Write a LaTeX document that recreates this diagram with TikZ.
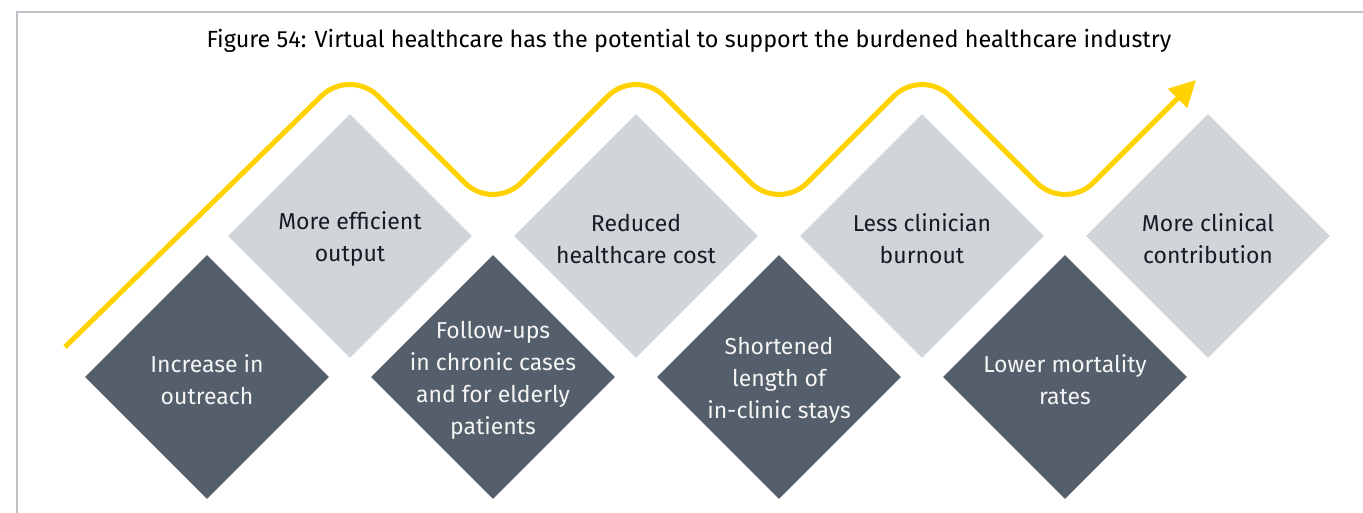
\documentclass[tikz,border=0pt]{standalone}
\usepackage{fontspec}
\setmainfont{Fira Sans}
\usepackage{tikz}
\usetikzlibrary{positioning,arrows.meta,shapes.geometric}
\definecolor{eyyellow}{HTML}{FFD200}
\definecolor{litegray}{HTML}{D0D5DA}
\definecolor{darkgray}{HTML}{545F6B}
\definecolor{framegray}{HTML}{BCC2C8}
\definecolor{inkblack}{HTML}{1A1A24}

\begin{document}
\begin{tikzpicture}[
  x=1pt, y=-1pt,
  dia/.style={diamond, aspect=1, inner sep=0pt, minimum size=244pt},
  lite/.style={dia, fill=litegray},
  dark/.style={dia, fill=darkgray},
  litetxt/.style={align=center, text=inkblack, font=\fontsize{23}{32}\selectfont},
  darktxt/.style={align=center, text=white!94!darkgray, font=\fontsize{23}{32}\selectfont},
  wave/.style={draw=eyyellow, line width=5pt, rounded corners=40pt,
               -{Triangle[length=26pt, width=26pt]}}]
\useasboundingbox (0,0) rectangle (1363,513);

% frame
\draw[framegray, line width=1.6pt] (1363,12) -- (17,12) -- (17,513);

% title
\node[font=\fontsize{23.4}{28}\selectfont, text=black] (title) at (689,41)
  {Figure 54: Virtual healthcare has the potential to support the burdened healthcare industry};

% upper row of diamonds
\foreach \x/\t [count=\i] in {350/{More efficient\\output},
                             636/{Reduced\\healthcare cost},
                             922/{Less clinician\\burnout},
                             1208/{More clinical\\contribution}} {
  \node[lite] (up\i) at (\x,236) {};
  \node[litetxt] at ([yshift=-3pt]up\i.center) {\t};
}

% lower row of diamonds
\foreach \x/\t [count=\i] in {207/{Increase in\\outreach},
                             493/{Follow-ups\\in chronic cases\\and for elderly\\patients},
                             779/{Shortened\\length of\\in-clinic stays},
                             1065/{Lower mortality\\rates}} {
  \node[dark] (lo\i) at (\x,377) {};
  \node[darktxt] at ([yshift=-3pt]lo\i.center) {\t};
}

% rising line
\coordinate (start) at (65,347);
\coordinate (tip) at (1196,80);
\draw[wave] (start) -- (350,68) -- (493,211) -- (636,68) -- (779,211)
  -- (922,68) -- (1065,211) -- (tip);
\end{tikzpicture}
\end{document}
